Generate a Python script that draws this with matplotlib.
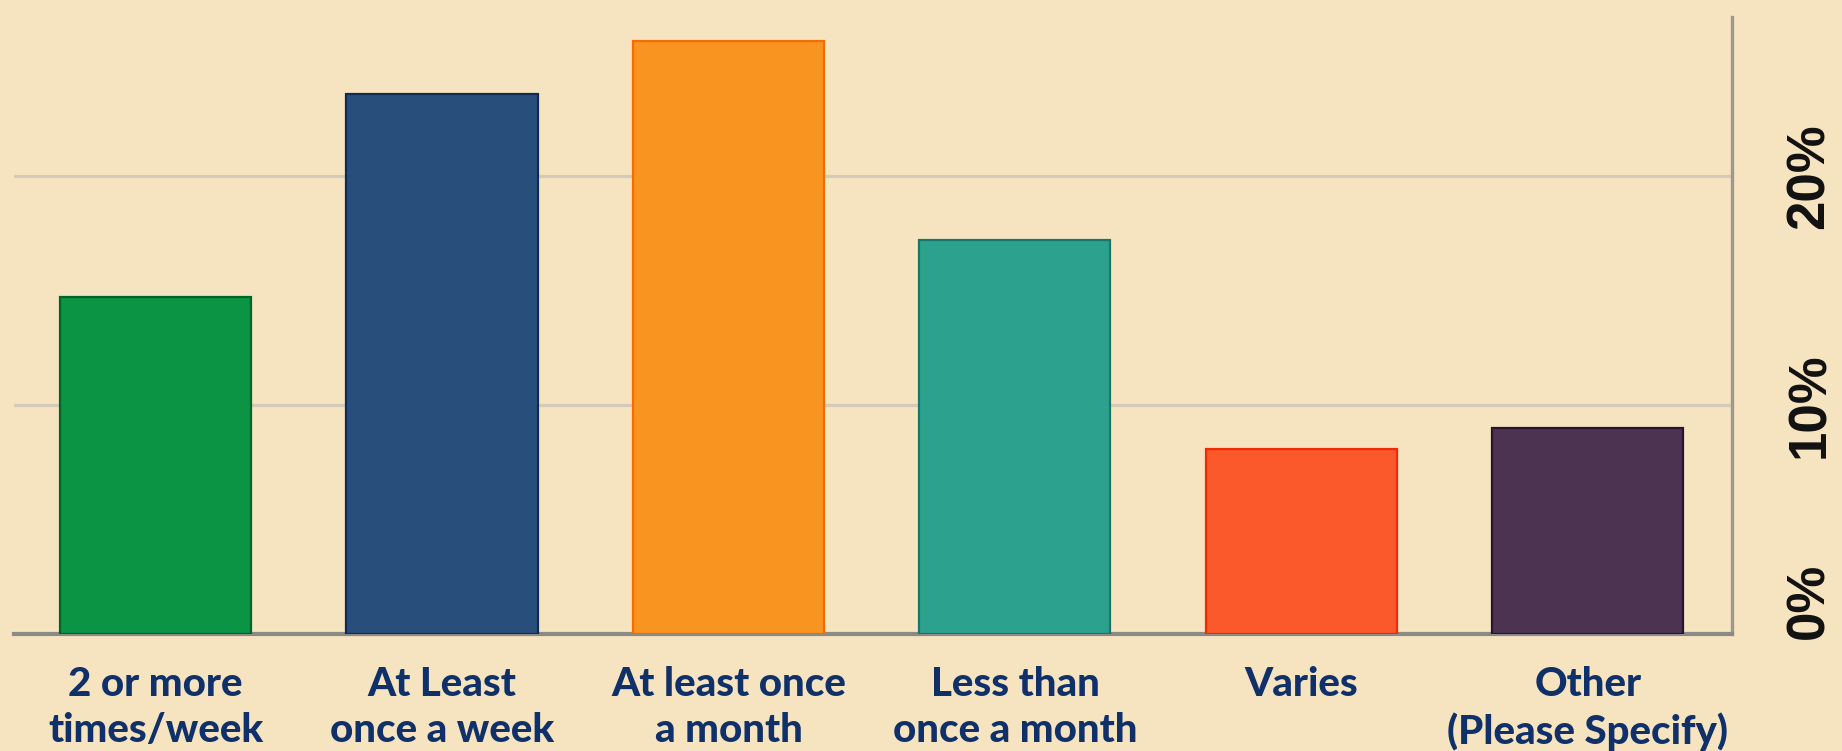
import numpy as np
import matplotlib.pyplot as plt
from matplotlib.transforms import ScaledTranslation

# datos
categorias = ["2 or more\ntimes/week", "At Least\nonce a week", "At least once\na month",
              "Less than\nonce a month", "Varies", "Other\n(Please Specify)"]
porcentajes = [14.7, 23.6, 25.9, 17.2, 8.1, 9.0]
colores = ["#0b9443", "#284f7b", "#f8941f", "#2ca28e", "#fb582b", "#4c3352"]
bordes = ["#00652a", "#0f2b55", "#f46c05", "#17776a", "#f42a05", "#2a1330"]
marcas_y = [0, 10, 20]
etiquetas_y = ["0%", "10%", "20%"]

fondo = "#f6e4c1"
azul_texto = "#0f3068"

fig = plt.figure(figsize=(18.42, 7.51), dpi=100)
fig.patch.set_facecolor(fondo)
ax = fig.add_axes([14 / 1842, 1 - 634 / 751, (1732 - 14) / 1842, (634 - 17) / 751])
ax.set_facecolor(fondo)

x = np.arange(len(categorias))
ax.bar(x, porcentajes, width=0.667, color=colores, edgecolor=bordes, linewidth=1.6, zorder=3)

ax.set_xlim(-0.494, 5.503)
ax.set_ylim(0, 26.95)

ax.yaxis.grid(True, color="#d3cbb7", linewidth=2.3)
ax.xaxis.grid(False)
ax.set_axisbelow(True)

for lado in ["top", "left"]:
    ax.spines[lado].set_visible(False)
ax.spines["right"].set_color("#9c988f")
ax.spines["right"].set_linewidth(2.4)
ax.spines["bottom"].set_color("#8b8a84")
ax.spines["bottom"].set_linewidth(3.0)

ax.set_xticks(x, labels=categorias, fontsize=29, fontweight="black", family="Lato",
              color=azul_texto, linespacing=1.3)
ax.tick_params(axis="x", length=0, pad=23)

ax.yaxis.tick_right()
ax.set_yticks(marcas_y, labels=etiquetas_y, rotation=90, fontsize=38, fontweight="bold",
              family="Liberation Sans", color="#111111", va="center")
ax.tick_params(axis="y", length=0, pad=38)

# la etiqueta 0% esta un poco mas arriba en el original
etiqueta0 = ax.get_yticklabels()[0]
etiqueta0.set_transform(etiqueta0.get_transform() + ScaledTranslation(0, 0.33, fig.dpi_scale_trans))

fig.savefig("out.png", dpi=100, facecolor=fondo)
